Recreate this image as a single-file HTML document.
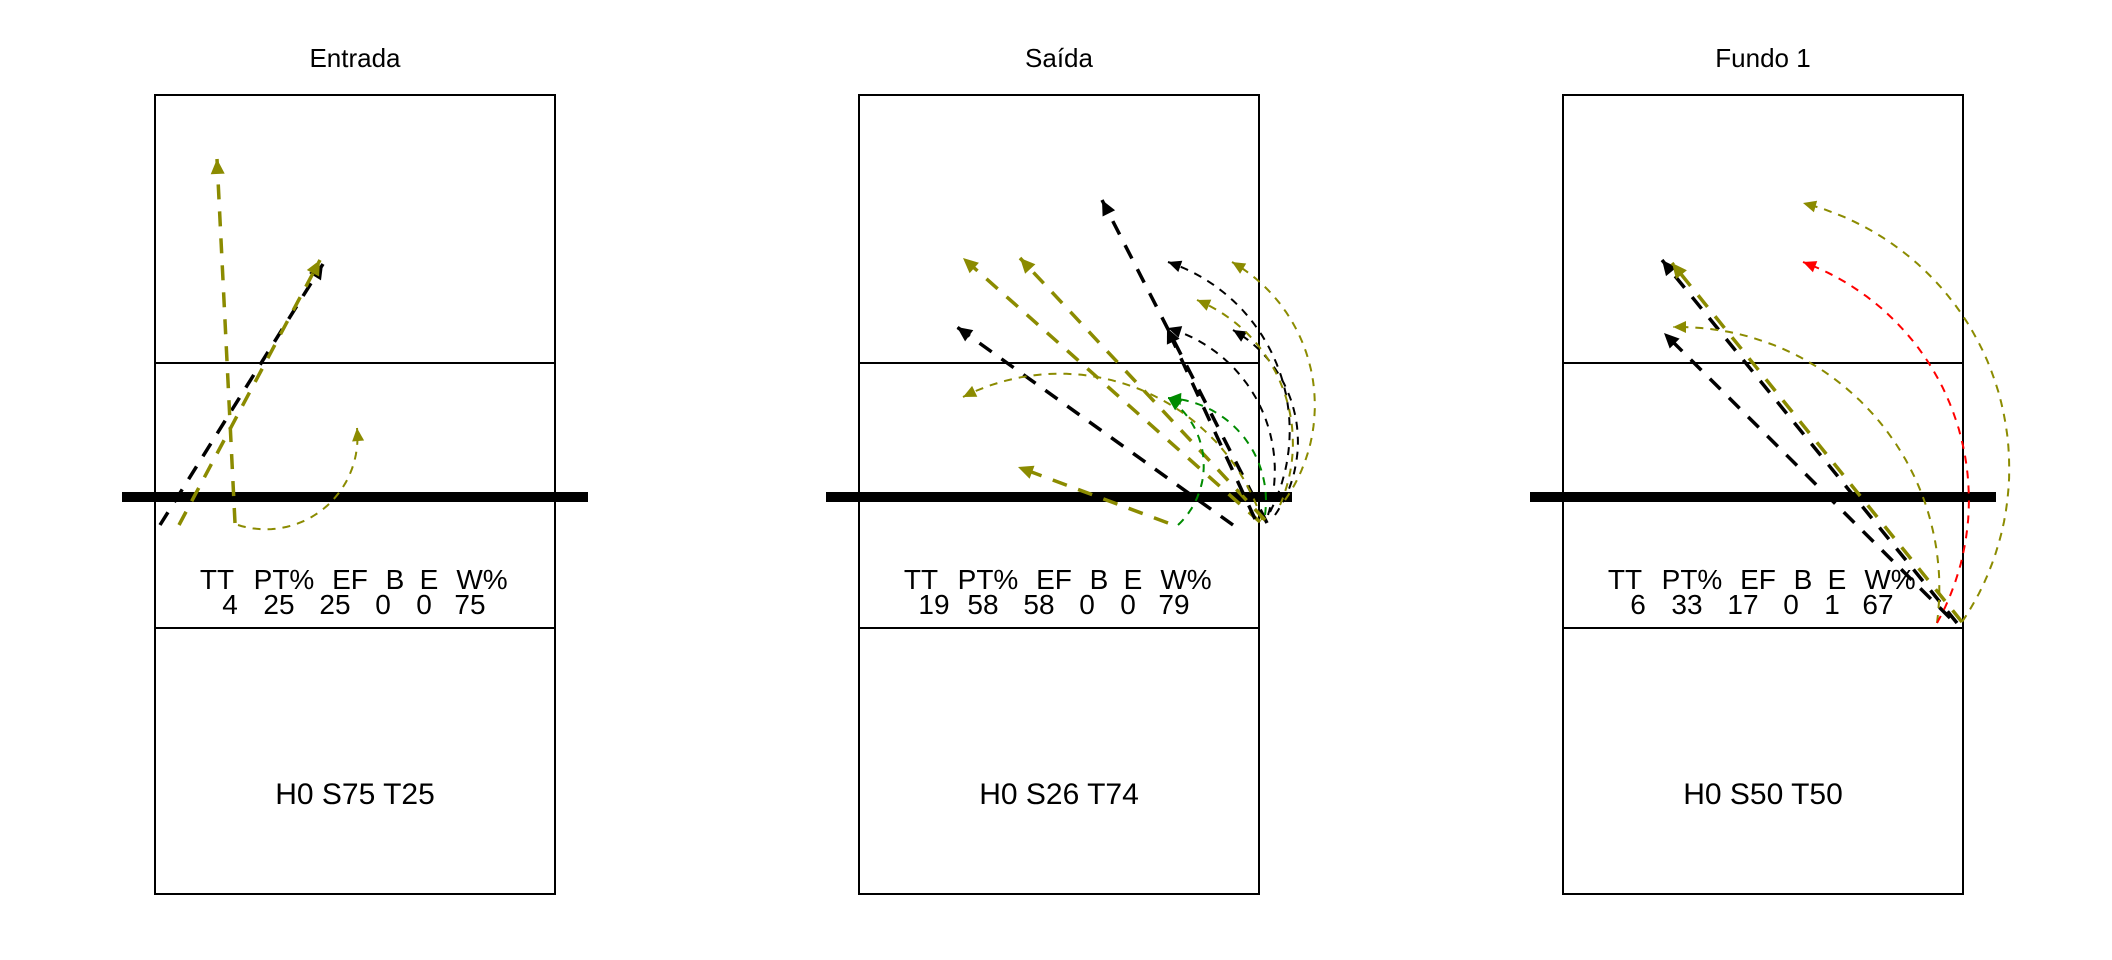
<!DOCTYPE html>
<html><head><meta charset="utf-8"><style>
html,body{margin:0;padding:0;background:#fff;}
svg{display:block;}
text{font-family:"Liberation Sans",Arial,sans-serif;fill:#000;}
</style></head><body>
<svg id="chart" width="2112" height="960" viewBox="0 0 2112 960"></svg>
<script>
// Court geometry units: 1 unit = 4px; x 0..100 across court, y from court top.
const panelTitles = ["Entrada", "Saída", "Fundo 1"];
const statHeaders = ["TT", "PT%", "EF", "B", "E", "W%"];
const statValues = [[4, 25, 25, 0, 0, 75], [19, 58, 58, 0, 0, 79], [6, 33, 17, 0, 1, 67]];
const footerLabels = ["H0 S75 T25", "H0 S26 T74", "H0 S50 T50"];

// Arrow data per panel (court units)
const p1StartX = [1.25, 6, 20, 20.75];
const p1StartY = [107.5, 107.5, 107, 107.5];
const p1EndX = [42, 41.25, 15.5, 50.5];
const p1EndY = [42.25, 41.25, 16, 83.25];
const p1Curve = [0, 0, 0, 0.27];
const p1Outcome = ["other", "kill", "kill", "kill"];

const p2StartX = [102, 100.25, 101.5, 93.5, 99, 77.25, 100.75, 79.75, 101.5, 102.75, 102.25, 104, 106.5, 105.25];
const p2StartY = [107, 106.75, 106.25, 107.5, 106, 107, 106.25, 107.5, 105, 104.25, 105, 105, 101.25, 102.5];
const p2EndX = [60.75, 26, 40.25, 24.5, 77, 39.75, 26, 77.25, 77.25, 77.25, 77.25, 93.5, 93.25, 84.5];
const p2EndY = [26.25, 40.75, 40.75, 58, 58.25, 93, 75.5, 75.75, 75.75, 41.75, 58.25, 58.75, 41.75, 51.25];
const p2Curve = [0, 0, 0, 0, 0, 0, 0.23, 0.24, 0.22, 0.23, 0.21, 0.22, 0.22, 0.21];
const p2Outcome = ["other", "kill", "kill", "other", "other", "kill", "kill", "cover", "cover", "other", "other", "other", "kill", "kill"];

const p3StartX = [98.5, 99.75, 96.75, 93.5, 93.5, 99.75];
const p3StartY = [132, 131.75, 130.75, 132, 132, 131.75];
const p3EndX = [24.75, 27.25, 25.25, 27.5, 60, 60];
const p3EndY = [41.25, 42, 59.5, 58, 41.75, 27];
const p3Curve = [0, 0, 0, 0.23, 0.23, 0.26];
const p3Outcome = ["other", "kill", "other", "kill", "error", "kill"];

const panels = [
  {sx: p1StartX, sy: p1StartY, ex: p1EndX, ey: p1EndY, k: p1Curve, o: p1Outcome},
  {sx: p2StartX, sy: p2StartY, ex: p2EndX, ey: p2EndY, k: p2Curve, o: p2Outcome},
  {sx: p3StartX, sy: p3StartY, ex: p3EndX, ey: p3EndY, k: p3Curve, o: p3Outcome}
];
const outcomeColor = {kill: "#8b8b00", other: "#000000", cover: "#008b00", error: "#ff0000"};

const NS = "http://www.w3.org/2000/svg";
const svg = document.getElementById("chart");
const courtLeft = [155, 859, 1563];
const courtTop = 95, courtW = 400, courtH = 799, U = 4;
function sx(p, v) { return courtLeft[p] + v * U; }
function sy(v) { return courtTop + v * U; }
function mk(tag, attrs, parent) {
  const el = document.createElementNS(NS, tag);
  for (const k in attrs) el.setAttribute(k, attrs[k]);
  (parent || svg).appendChild(el);
  return el;
}
function arcPoints(S, E, k) {
  if (k === 0) return [S, E];
  const dx = E[0] - S[0], dy = E[1] - S[1], c = Math.hypot(dx, dy);
  const ux = dx / c, uy = dy / c, rx = -uy, ry = ux;
  const s = k * c, r = (c * c / 4 + s * s) / (2 * Math.abs(s));
  const mx = (S[0] + E[0]) / 2, my = (S[1] + E[1]) / 2;
  const off = s - Math.sign(s) * r;
  const cx = mx + rx * off, cy = my + ry * off;
  const bx = mx + rx * s, by = my + ry * s;
  const a0 = Math.atan2(S[1] - cy, S[0] - cx), a1 = Math.atan2(E[1] - cy, E[0] - cx), ab = Math.atan2(by - cy, bx - cx);
  let d = a1 - a0;
  while (d > Math.PI) d -= 2 * Math.PI;
  while (d <= -Math.PI) d += 2 * Math.PI;
  const amid = a0 + d / 2;
  if (Math.abs(Math.atan2(Math.sin(amid - ab), Math.cos(amid - ab))) > 0.5) d = d - Math.sign(d) * 2 * Math.PI;
  const pts = [];
  for (let i = 0; i <= 48; i++) { const a = a0 + d * i / 48; pts.push([cx + r * Math.cos(a), cy + r * Math.sin(a)]); }
  return pts;
}

for (let p = 0; p < 3; p++) {
  const L = courtLeft[p], cxm = L + courtW / 2;
  const g = mk("g", {});
  
  
  const t = mk("text", {x: cxm, y: 67, "text-anchor": "middle", "font-size": 26}, g);
  t.textContent = panelTitles[p];
  
  
  const rect = mk("rect", {x: L, y: courtTop, width: courtW, height: courtH, fill: "none", stroke: "#000", "stroke-width": 2}, g);
  
  
  [363, 628].forEach(function (yy) {
    const ln = mk("line", {x1: L, x2: L + courtW, y1: yy, y2: yy, stroke: "#000", "stroke-width": 2}, g);
    
    
  });
  const net = mk("line", {x1: L - 33, x2: L + courtW + 33, y1: 497, y2: 497, stroke: "#000", "stroke-width": 10}, g);
  
  

  const hdrX = [62, 129, 195, 240, 274, 327];
  const valX = [75, 124, 180, 228, 269, 315];
  for (let i = 0; i < 6; i++) {
    const h = mk("text", {x: L + hdrX[i], y: 589, "text-anchor": "middle", "font-size": 28}, g);
    h.textContent = statHeaders[i];
    
    
    const v = mk("text", {x: L + valX[i], y: 614, "text-anchor": "middle", "font-size": 28}, g);
    v.textContent = String(statValues[p][i]);
    
    
  }
  const f = mk("text", {x: cxm, y: 804, "text-anchor": "middle", "font-size": 30}, g);
  f.textContent = footerLabels[p];
  
  

  const d = panels[p];
  for (let i = 0; i < d.sx.length; i++) {
    const S = [sx(p, d.sx[i]), sy(d.sy[i])], E = [sx(p, d.ex[i]), sy(d.ey[i])];
    const pts = arcPoints(S, E, d.k[i]);
    const thick = d.k[i] === 0;
    const col = outcomeColor[d.o[i]];
    const path = mk("polyline", {points: pts.map(q => q[0].toFixed(1) + "," + q[1].toFixed(1)).join(" "),
      fill: "none", stroke: col, "stroke-width": thick ? 3.5 : 2, "stroke-dasharray": thick ? "15,12" : "8,7"}, g);
    
    
    const a = pts[pts.length - 2], b = pts[pts.length - 1];
    const tl = Math.hypot(b[0] - a[0], b[1] - a[1]);
    const ux = (b[0] - a[0]) / tl, uy = (b[1] - a[1]) / tl;
    const HL = thick ? 15 : 13, HW = thick ? 7 : 6;
    const bx = b[0] - ux * HL, by = b[1] - uy * HL;
    const head = mk("polygon", {points: [b[0], b[1], bx - uy * HW, by + ux * HW, bx + uy * HW, by - ux * HW].map(v => v.toFixed(1)).join(","), fill: col}, g);
    
    
  }
}
</script>
</body></html>
